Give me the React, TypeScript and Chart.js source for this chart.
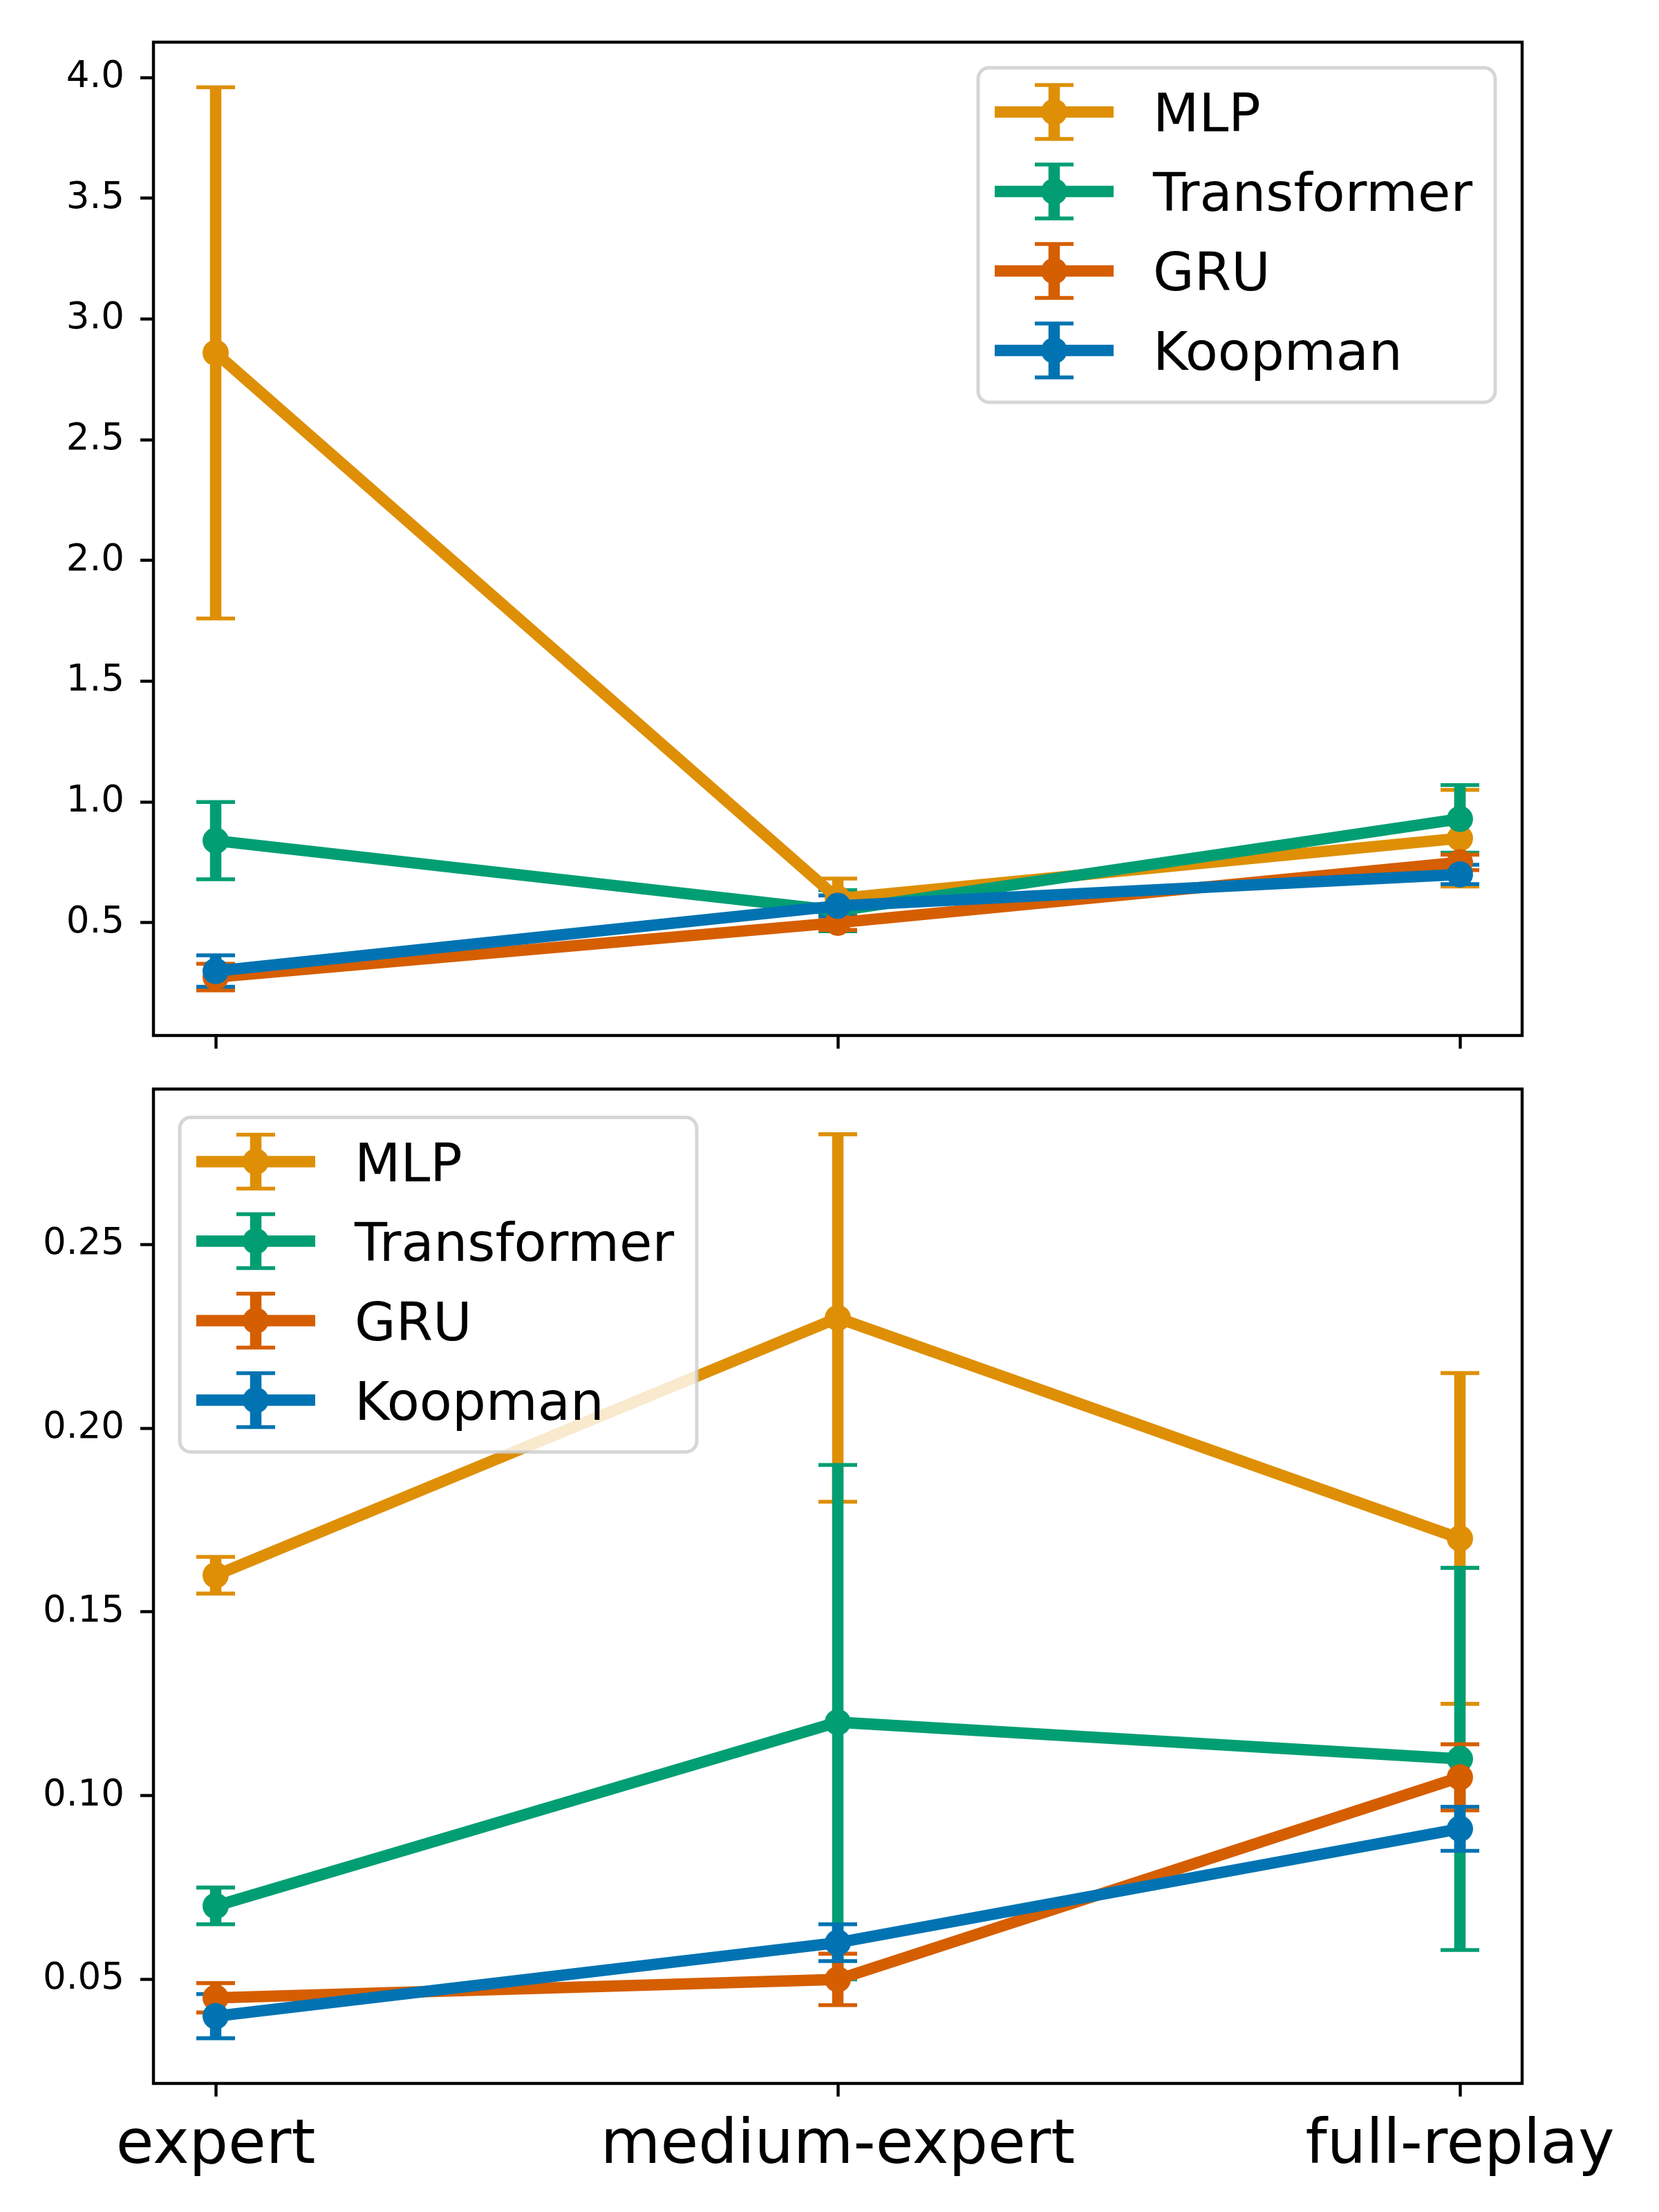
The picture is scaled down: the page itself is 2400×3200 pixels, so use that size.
import React, { useEffect, useRef } from 'react';
import { Chart, registerables } from 'chart.js';

Chart.register(...registerables);

// ---------- data ----------
const categories = ['expert', 'medium-expert', 'full-replay'];
const seriesNames = ['MLP', 'Transformer', 'GRU', 'Koopman'];

// top panel
const topMLP = [2.86, 0.6, 0.85];
const topMLPErr = [1.1, 0.083, 0.2];
const topTransformer = [0.84, 0.55, 0.93];
const topTransformerErr = [0.16, 0.085, 0.14];
const topGRU = [0.275, 0.5, 0.75];
const topGRUErr = [0.055, 0.03, 0.032];
const topKoopman = [0.3, 0.57, 0.7];
const topKoopmanErr = [0.065, 0.043, 0.04];
const topTicks = [0.5, 1.0, 1.5, 2.0, 2.5, 3.0, 3.5, 4.0];

// bottom panel
const botMLP = [0.16, 0.23, 0.17];
const botMLPErr = [0.005, 0.05, 0.045];
const botTransformer = [0.07, 0.12, 0.11];
const botTransformerErr = [0.005, 0.07, 0.052];
const botGRU = [0.045, 0.05, 0.105];
const botGRUErr = [0.004, 0.007, 0.009];
const botKoopman = [0.04, 0.06, 0.091];
const botKoopmanErr = [0.006, 0.005, 0.006];
const botTicks = [0.05, 0.1, 0.15, 0.2, 0.25];

// ---------- style ----------
const COLORS = ['#de8f05', '#029e73', '#d55e00', '#0173b2'];
const FONT = '"DejaVu Sans", sans-serif';
const LW = 16.5;
const MR = 19;
const CAP_HALF = 28;
const CAP_W = 5.6;
const SPINE = 4.4;

function yRange(vals: number[][], errs: number[][]) {
  let lo = Infinity;
  let hi = -Infinity;
  vals.forEach((s, i) =>
    s.forEach((v, j) => {
      lo = Math.min(lo, v - errs[i][j]);
      hi = Math.max(hi, v + errs[i][j]);
    })
  );
  const pad = (hi - lo) * 0.05;
  return { min: lo - pad, max: hi + pad };
}

const errorBarPlugin = {
  id: 'errbars',
  beforeDatasetsDraw(chart: any, _args: any, opts: any) {
    const ctx = chart.ctx;
    const xs = chart.scales.x;
    const ys = chart.scales.y;
    ctx.save();
    chart.data.datasets.forEach((ds: any, i: number) => {
      const errs = opts.errors[i];
      ds.data.forEach((p: any, j: number) => {
        const x = xs.getPixelForValue(p.x);
        const yTop = ys.getPixelForValue(p.y + errs[j]);
        const yBot = ys.getPixelForValue(p.y - errs[j]);
        ctx.strokeStyle = ds.borderColor;
        ctx.lineCap = 'butt';
        ctx.lineWidth = LW;
        ctx.beginPath();
        ctx.moveTo(x, yBot);
        ctx.lineTo(x, yTop);
        ctx.stroke();
        ctx.lineWidth = CAP_W;
        ctx.beginPath();
        ctx.moveTo(x - CAP_HALF, yTop);
        ctx.lineTo(x + CAP_HALF, yTop);
        ctx.moveTo(x - CAP_HALF, yBot);
        ctx.lineTo(x + CAP_HALF, yBot);
        ctx.stroke();
      });
    });
    ctx.restore();
  },
};

const framePlugin = {
  id: 'frame',
  afterDatasetsDraw(chart: any) {
    const { ctx, chartArea: a } = chart;
    ctx.save();
    ctx.strokeStyle = '#000';
    ctx.lineWidth = SPINE;
    ctx.strokeRect(a.left, a.top, a.right - a.left, a.bottom - a.top);
    ctx.restore();
  },
};

const innerLegendPlugin = {
  id: 'innerLegend',
  afterDraw(chart: any, _args: any, opts: any) {
    const { ctx, chartArea: a } = chart;
    const bw = 748;
    const bh = 484;
    const bx = opts.side === 'right' ? a.right - opts.gapX - bw : a.left + opts.gapX;
    const by = a.top + opts.gapY;
    ctx.save();
    ctx.beginPath();
    if (ctx.roundRect) ctx.roundRect(bx, by, bw, bh, 16);
    else ctx.rect(bx, by, bw, bh);
    ctx.fillStyle = 'rgba(255,255,255,0.8)';
    ctx.fill();
    ctx.lineWidth = 5;
    ctx.strokeStyle = 'rgba(204,204,204,0.8)';
    ctx.stroke();
    chart.data.datasets.forEach((ds: any, k: number) => {
      const cy = by + 64 + k * 115;
      const c = ds.borderColor;
      ctx.strokeStyle = c;
      ctx.lineCap = 'butt';
      ctx.lineWidth = LW;
      ctx.beginPath();
      ctx.moveTo(bx + 24, cy);
      ctx.lineTo(bx + 196, cy);
      ctx.stroke();
      const mx = bx + 110;
      ctx.beginPath();
      ctx.moveTo(mx, cy - 39);
      ctx.lineTo(mx, cy + 39);
      ctx.stroke();
      ctx.lineWidth = CAP_W;
      ctx.beginPath();
      ctx.moveTo(mx - CAP_HALF, cy - 39);
      ctx.lineTo(mx + CAP_HALF, cy - 39);
      ctx.moveTo(mx - CAP_HALF, cy + 39);
      ctx.lineTo(mx + CAP_HALF, cy + 39);
      ctx.stroke();
      ctx.fillStyle = c;
      ctx.beginPath();
      ctx.arc(mx, cy, MR, 0, Math.PI * 2);
      ctx.fill();
      ctx.fillStyle = '#000';
      ctx.font = `77px ${FONT}`;
      ctx.textAlign = 'left';
      ctx.textBaseline = 'alphabetic';
      ctx.fillText(ds.label, bx + 253, cy + 28);
    });
    ctx.restore();
  },
};

function zeroPad(s: any) {
  s.paddingTop = 0;
  s.paddingBottom = 0;
  s.paddingLeft = 0;
  s.paddingRight = 0;
}

function makeConfig(
  vals: number[][],
  errs: number[][],
  ticks: number[],
  decimals: number,
  showX: boolean,
  padTop: number,
  xHeight: number,
  legendSide: 'left' | 'right',
  gapX: number,
  gapY: number
): any {
  const r = yRange(vals, errs);
  const n = vals.length;
  return {
    type: 'line',
    data: {
      datasets: vals.map((s, i) => ({
        label: seriesNames[i],
        data: s.map((v, j) => ({ x: j, y: v })),
        borderColor: COLORS[i],
        backgroundColor: COLORS[i],
        borderWidth: LW,
        pointRadius: MR,
        pointHoverRadius: MR,
        pointBorderWidth: 0,
        pointBackgroundColor: COLORS[i],
        tension: 0,
        fill: false,
        order: n - i,
      })),
    },
    options: {
      responsive: false,
      animation: false,
      devicePixelRatio: 1,
      events: [],
      layout: { padding: { top: padTop, right: 198, left: 0, bottom: 0 } },
      plugins: {
        legend: { display: false },
        tooltip: { enabled: false },
        title: { display: false },
        errbars: { errors: errs },
        innerLegend: { side: legendSide, gapX, gapY },
      },
      scales: {
        x: {
          type: 'linear',
          min: -0.1,
          max: 2.1,
          afterBuildTicks: (s: any) => {
            s.ticks = categories.map((_, i) => ({ value: i }));
          },
          afterFit: (s: any) => {
            s.height = xHeight;
            zeroPad(s);
          },
          ticks: {
            callback: (v: any) => (showX ? categories[Math.round(v)] : ''),
            font: { family: FONT, size: 89 },
            color: '#000',
            padding: 19,
            maxRotation: 0,
            autoSkip: false,
          },
          grid: {
            display: true,
            drawOnChartArea: false,
            drawTicks: true,
            tickLength: 19,
            tickWidth: SPINE,
            tickColor: '#000',
          },
          border: { display: false },
        },
        y: {
          type: 'linear',
          min: r.min,
          max: r.max,
          afterBuildTicks: (s: any) => {
            s.ticks = ticks.map((v) => ({ value: v }));
          },
          afterFit: (s: any) => {
            s.width = 222;
            zeroPad(s);
          },
          ticks: {
            callback: (v: any) => Number(v).toFixed(decimals),
            font: { family: FONT, size: 53 },
            color: '#000',
            padding: 23,
          },
          grid: {
            display: true,
            drawOnChartArea: false,
            drawTicks: true,
            tickLength: 19,
            tickWidth: SPINE,
            tickColor: '#000',
          },
          border: { display: false },
        },
      },
    },
    plugins: [errorBarPlugin, framePlugin, innerLegendPlugin],
  };
}

export default function App() {
  const topRef = useRef<HTMLCanvasElement | null>(null);
  const botRef = useRef<HTMLCanvasElement | null>(null);

  useEffect(() => {
    const topChart = new Chart(
      topRef.current as HTMLCanvasElement,
      makeConfig(
        [topMLP, topTransformer, topGRU, topKoopman],
        [topMLPErr, topTransformerErr, topGRUErr, topKoopmanErr],
        topTicks,
        1,
        false,
        61,
        42,
        'right',
        39,
        37
      )
    );
    const botChart = new Chart(
      botRef.current as HTMLCanvasElement,
      makeConfig(
        [botMLP, botTransformer, botGRU, botKoopman],
        [botMLPErr, botTransformerErr, botGRUErr, botKoopmanErr],
        botTicks,
        2,
        true,
        35.5,
        186,
        'left',
        38,
        41
      )
    );
    return () => {
      topChart.destroy();
      botChart.destroy();
    };
  }, []);

  return (
    <div style={{ position: 'absolute', left: 0, top: 0, width: 2400, height: 3200, background: '#fff' }}>
      <canvas
        ref={topRef}
        width={2400}
        height={1540}
        style={{ position: 'absolute', left: 0, top: 0, width: 2400, height: 1540 }}
      />
      <canvas
        ref={botRef}
        width={2400}
        height={1660}
        style={{ position: 'absolute', left: 0, top: 1540, width: 2400, height: 1660 }}
      />
    </div>
  );
}
